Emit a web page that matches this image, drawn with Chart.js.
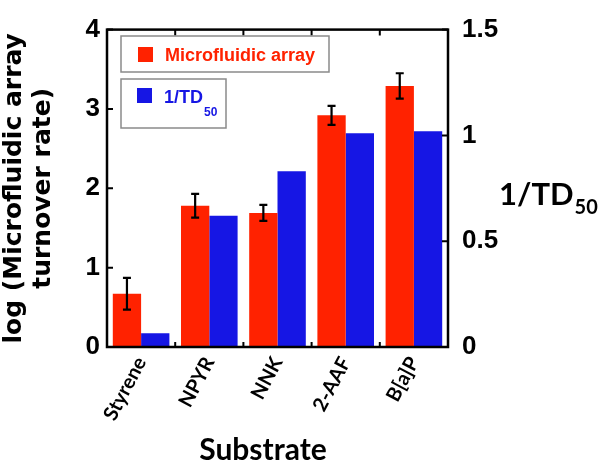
<!DOCTYPE html>
<html>
<head>
<meta charset="utf-8">
<script src="https://cdn.jsdelivr.net/npm/chart.js@4"></script>
<style>
html, body { margin: 0; padding: 0; background: #fff; }
#wrap { width: 600px; height: 466px; }
</style>
</head>
<body>
<div id="wrap"><canvas id="grafica"></canvas></div>
<script>
// datos
const substrates = ['Styrene', 'NPYR', 'NNK', '2-AAF', 'B[a]P'];
const turnover = [0.67, 1.78, 1.69, 2.92, 3.29];
const turnoverErr = [0.2, 0.15, 0.1, 0.12, 0.16];
const invTD50 = [0.065, 0.62, 0.83, 1.01, 1.02];
const leftTicks = [0, 1, 2, 3, 4];
const rightTicks = [0, 0.5, 1, 1.5];

const RED = 'rgb(255,34,0)';
const BLUE = 'rgb(22,22,228)';

// marco con ticks hacia adentro
const marco = {
    id: 'marco',
    afterDraw(chart) {
        const ctx = chart.ctx;
        const a = chart.chartArea;
        const x = chart.scales.x, y = chart.scales.y, y1 = chart.scales.y1;
        ctx.save();
        ctx.strokeStyle = '#000';
        ctx.lineWidth = 2.5;
        ctx.strokeRect(a.left, a.top, a.right - a.left, a.bottom - a.top);
        ctx.lineWidth = 2;
        ctx.beginPath();
        leftTicks.forEach(v => {
            const p = y.getPixelForValue(v);
            ctx.moveTo(a.left, p); ctx.lineTo(a.left + 6, p);
        });
        rightTicks.forEach(v => {
            const p = y1.getPixelForValue(v);
            ctx.moveTo(a.right, p); ctx.lineTo(a.right - 6, p);
        });
        for (let i = 0; i < substrates.length - 1; i++) {
            const p = (x.getPixelForTick(i) + x.getPixelForTick(i + 1)) / 2;
            ctx.moveTo(p, a.top); ctx.lineTo(p, a.top + 6);
            ctx.moveTo(p, a.bottom); ctx.lineTo(p, a.bottom - 5);
        }
        ctx.stroke();

        // titulos
        ctx.fillStyle = '#000';
        ctx.font = 'bold 30px Lato';
        ctx.textAlign = 'center';
        ctx.textBaseline = 'alphabetic';
        ctx.fillText('Substrate', 263, 460);

        ctx.textAlign = 'left';
        ctx.font = 'bold 31px Lato';
        ctx.fillText('1/TD', 499, 205);
        const w = ctx.measureText('1/TD').width;
        ctx.font = 'bold 20px Lato';
        ctx.fillText('50', 499 + w + 1, 214);

        // leyenda
        ctx.strokeStyle = '#8a8a8a';
        ctx.lineWidth = 1.5;
        ctx.fillStyle = '#fff';
        ctx.fillRect(121, 36, 208, 36);
        ctx.strokeRect(121, 36, 208, 36);
        ctx.fillRect(121, 79, 105, 49);
        ctx.strokeRect(121, 79, 105, 49);
        ctx.fillStyle = RED;
        ctx.fillRect(138, 47, 15, 15);
        ctx.font = 'bold 18px "Liberation Sans"';
        ctx.fillText('Microfluidic array', 165, 61);
        ctx.fillStyle = BLUE;
        ctx.fillRect(137, 88, 15, 15);
        ctx.fillText('1/TD', 164, 103);
        const w2 = ctx.measureText('1/TD').width;
        ctx.font = 'bold 12px "Liberation Sans"';
        ctx.fillText('50', 164 + w2 + 1, 116);
        ctx.restore();
    },
    afterDatasetsDraw(chart) {
        const ctx = chart.ctx;
        const y = chart.scales.y;
        const meta = chart.getDatasetMeta(0);
        ctx.save();
        ctx.strokeStyle = '#000';
        ctx.lineWidth = 2.2;
        meta.data.forEach((bar, i) => {
            const hi = y.getPixelForValue(turnover[i] + turnoverErr[i]);
            const lo = y.getPixelForValue(turnover[i] - turnoverErr[i]);
            ctx.beginPath();
            ctx.moveTo(bar.x, hi); ctx.lineTo(bar.x, lo);
            ctx.moveTo(bar.x - 4, hi); ctx.lineTo(bar.x + 4, hi);
            ctx.moveTo(bar.x - 4, lo); ctx.lineTo(bar.x + 4, lo);
            ctx.stroke();
        });
        ctx.restore();
    }
};

const chart = new Chart(document.getElementById('grafica'), {
    type: 'bar',
    data: {
        labels: substrates,
        datasets: [
            { label: 'Microfluidic array', data: turnover, backgroundColor: RED, yAxisID: 'y' },
            { label: '1/TD50', data: invTD50, backgroundColor: BLUE, yAxisID: 'y1' }
        ]
    },
    options: {
        responsive: true,
        maintainAspectRatio: false,
        animation: false,
        layout: { padding: { left: 0, top: 27, right: 0, bottom: 0 } },
        datasets: { bar: { barPercentage: 1, categoryPercentage: 0.83 } },
        plugins: { legend: { display: false }, tooltip: { enabled: false } },
        scales: {
            x: {
                grid: { display: false, drawTicks: false },
                border: { display: false },
                ticks: {
                    color: '#000',
                    font: { family: 'Lato', weight: 'bold', size: 20 },
                    minRotation: 62, maxRotation: 62, padding: 6
                },
                afterFit: s => { s.height = 119; }
            },
            y: {
                position: 'left',
                min: 0, max: 4,
                grid: { display: false, drawTicks: false },
                border: { display: false },
                ticks: {
                    stepSize: 1, color: '#000', padding: 7,
                    font: { family: 'Liberation Sans', weight: 'bold', size: 26 }
                },
                title: {
                    display: true,
                    text: ['log (Microfluidic array', 'turnover rate)'],
                    color: '#000',
                    font: { family: 'DejaVu Sans', weight: 'bold', size: 25, lineHeight: 1.15 },
                    padding: { top: 0, bottom: 0 }
                },
                afterFit: s => { s.width = 107; }
            },
            y1: {
                position: 'right',
                min: 0, max: 1.5,
                grid: { display: false, drawTicks: false },
                border: { display: false },
                ticks: {
                    stepSize: 0.5, color: '#000', padding: 14,
                    font: { family: 'Liberation Sans', weight: 'bold', size: 26 },
                    callback: v => String(v)
                },
                afterFit: s => { s.width = 152; }
            }
        }
    },
    plugins: [marco]
});
</script>
</body>
</html>
